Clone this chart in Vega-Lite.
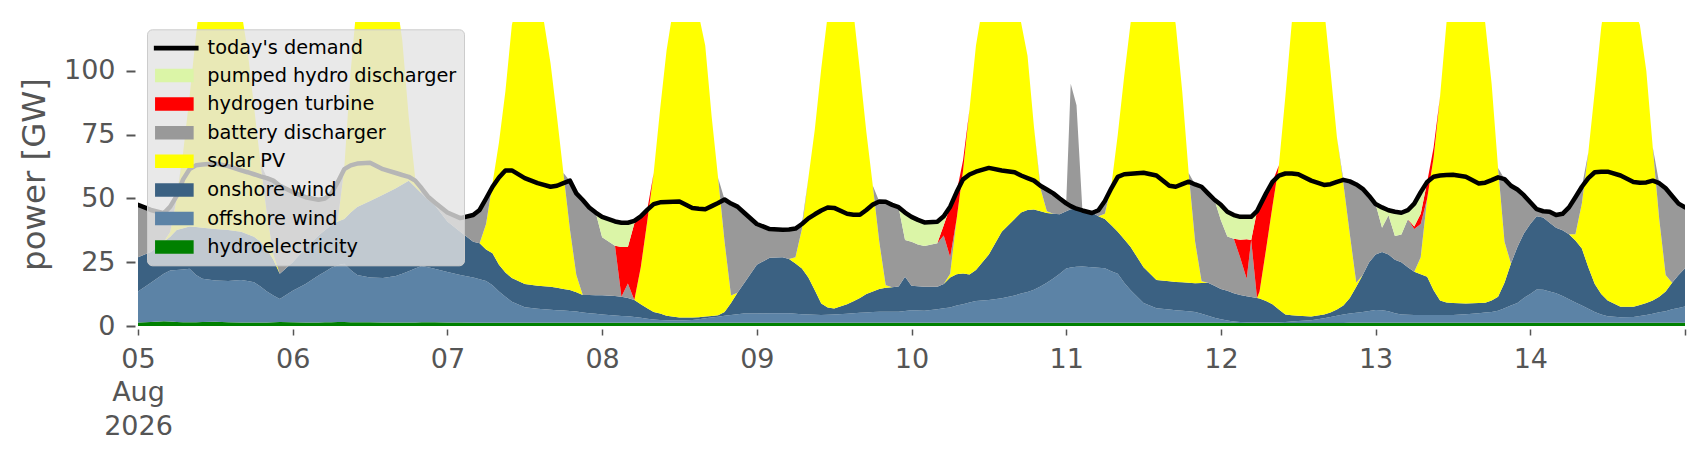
{
  "$schema": "https://vega.github.io/schema/vega-lite/v6.json",
  "width": 1547,
  "height": 304,
  "autosize": {"type": "none"},
  "padding": {"left": 138, "top": 22, "right": 21, "bottom": 134},
  "background": "white",
  "config": {"view": {"stroke": null}, "font": "DejaVu Sans"},
  "resolve": {"scale": {"color": "independent"}, "legend": {"color": "independent"}},
  "data": {
    "values": [
      {"t":0,"hydro":1.4,"offshore":12.1,"onshore":13.5,"solar":0,"battery":20.5,"hydrogen":0,"phs":0,"demand":47.5},
      {"t":2,"hydro":1.6,"offshore":15.4,"onshore":12,"solar":0,"battery":16.5,"hydrogen":0,"phs":0,"demand":45.5},
      {"t":4,"hydro":1.9,"offshore":18.6,"onshore":12.5,"solar":0,"battery":11.2,"hydrogen":0,"phs":0,"demand":44.2},
      {"t":5,"hydro":1.8,"offshore":20,"onshore":13.2,"solar":2,"battery":9.8,"hydrogen":0,"phs":0,"demand":46.8},
      {"t":6,"hydro":1.6,"offshore":20.4,"onshore":15.6,"solar":12.4,"battery":1,"hydrogen":0,"phs":0,"demand":51},
      {"t":7,"hydro":1.5,"offshore":20.7,"onshore":16.1,"solar":29.7,"battery":0,"hydrogen":0,"phs":0,"demand":57.5},
      {"t":8,"hydro":1.5,"offshore":20.9,"onshore":16.6,"solar":51,"battery":0,"hydrogen":0,"phs":0,"demand":61.5},
      {"t":9,"hydro":1.5,"offshore":18.5,"onshore":18.8,"solar":75.2,"battery":0,"hydrogen":0,"phs":0,"demand":63},
      {"t":10,"hydro":1.6,"offshore":16.9,"onshore":20,"solar":96.5,"battery":0,"hydrogen":0,"phs":0,"demand":63.3},
      {"t":12,"hydro":1.7,"offshore":16.1,"onshore":20.2,"solar":122,"battery":0,"hydrogen":0,"phs":0,"demand":63.7},
      {"t":14,"hydro":1.5,"offshore":16.1,"onshore":20,"solar":112.4,"battery":0,"hydrogen":0,"phs":0,"demand":62.7},
      {"t":16,"hydro":1.4,"offshore":16.6,"onshore":19,"solar":87,"battery":0,"hydrogen":0,"phs":0,"demand":61},
      {"t":17,"hydro":1.4,"offshore":16.2,"onshore":18.4,"solar":72,"battery":0,"hydrogen":0,"phs":0,"demand":60.3},
      {"t":18,"hydro":1.4,"offshore":15.8,"onshore":17.8,"solar":51,"battery":0,"hydrogen":0,"phs":0,"demand":59.5},
      {"t":19,"hydro":1.4,"offshore":14.1,"onshore":17.5,"solar":31,"battery":0,"hydrogen":0,"phs":0,"demand":58.7},
      {"t":20,"hydro":1.4,"offshore":12.1,"onshore":16.5,"solar":14,"battery":14,"hydrogen":0,"phs":0,"demand":58},
      {"t":21,"hydro":1.5,"offshore":10.5,"onshore":14,"solar":2,"battery":29,"hydrogen":0,"phs":0,"demand":57},
      {"t":22,"hydro":1.6,"offshore":9,"onshore":9.9,"solar":0,"battery":34.5,"hydrogen":0,"phs":0,"demand":55},
      {"t":24,"hydro":1.5,"offshore":12.3,"onshore":11.2,"solar":0,"battery":27.5,"hydrogen":0,"phs":0,"demand":52.5},
      {"t":26,"hydro":1.4,"offshore":15.1,"onshore":14,"solar":0,"battery":20,"hydrogen":0,"phs":0,"demand":50.5},
      {"t":28,"hydro":1.4,"offshore":18.4,"onshore":15.7,"solar":0,"battery":14,"hydrogen":0,"phs":0,"demand":49.5},
      {"t":29,"hydro":1.5,"offshore":19.8,"onshore":16.2,"solar":0,"battery":12.5,"hydrogen":0,"phs":0,"demand":50},
      {"t":30,"hydro":1.5,"offshore":21.3,"onshore":16.7,"solar":0,"battery":12.5,"hydrogen":0,"phs":0,"demand":52},
      {"t":31,"hydro":1.6,"offshore":22.2,"onshore":17.2,"solar":0.5,"battery":15,"hydrogen":0,"phs":0,"demand":56.5},
      {"t":32,"hydro":1.6,"offshore":22.8,"onshore":17.6,"solar":20,"battery":0,"hydrogen":0,"phs":0,"demand":61.5},
      {"t":33,"hydro":1.5,"offshore":20.5,"onshore":22.5,"solar":55.5,"battery":0,"hydrogen":0,"phs":0,"demand":63},
      {"t":34,"hydro":1.5,"offshore":18.5,"onshore":26.7,"solar":81.3,"battery":0,"hydrogen":0,"phs":0,"demand":63.7},
      {"t":36,"hydro":1.5,"offshore":17.5,"onshore":30,"solar":106,"battery":0,"hydrogen":0,"phs":0,"demand":64},
      {"t":38,"hydro":1.4,"offshore":17.4,"onshore":32.7,"solar":98.5,"battery":0,"hydrogen":0,"phs":0,"demand":61.5},
      {"t":40,"hydro":1.4,"offshore":18.2,"onshore":34.4,"solar":76,"battery":0,"hydrogen":0,"phs":0,"demand":60},
      {"t":41,"hydro":1.4,"offshore":19.1,"onshore":35,"solar":56.5,"battery":0,"hydrogen":0,"phs":0,"demand":59.2},
      {"t":42,"hydro":1.4,"offshore":20.1,"onshore":35.5,"solar":25,"battery":0,"hydrogen":0,"phs":0,"demand":58.5},
      {"t":43,"hydro":1.4,"offshore":21.1,"onshore":32,"solar":3.5,"battery":0,"hydrogen":0,"phs":0,"demand":57},
      {"t":44,"hydro":1.5,"offshore":22,"onshore":28.5,"solar":0,"battery":2,"hydrogen":0,"phs":0,"demand":54},
      {"t":45,"hydro":1.5,"offshore":21.5,"onshore":26.5,"solar":0,"battery":1.2,"hydrogen":0,"phs":0,"demand":50.7},
      {"t":46,"hydro":1.5,"offshore":20.9,"onshore":25.1,"solar":0,"battery":1,"hydrogen":0,"phs":0,"demand":48.5},
      {"t":48,"hydro":1.4,"offshore":19.8,"onshore":19.8,"solar":0,"battery":3.5,"hydrogen":0,"phs":0,"demand":44.5},
      {"t":50,"hydro":1.4,"offshore":18.6,"onshore":17,"solar":0,"battery":5.3,"hydrogen":0,"phs":0,"demand":42.3},
      {"t":52,"hydro":1.3,"offshore":17.7,"onshore":14,"solar":0,"battery":10.5,"hydrogen":0,"phs":0,"demand":43.5},
      {"t":53,"hydro":1.3,"offshore":17,"onshore":14.1,"solar":0,"battery":13.1,"hydrogen":0,"phs":0,"demand":45.5},
      {"t":54,"hydro":1.3,"offshore":16.3,"onshore":12.4,"solar":10,"battery":10,"hydrogen":0,"phs":0,"demand":50},
      {"t":55,"hydro":1.3,"offshore":14.7,"onshore":12.5,"solar":27.5,"battery":0,"hydrogen":0,"phs":0,"demand":54.6},
      {"t":56,"hydro":1.3,"offshore":12.2,"onshore":10.5,"solar":48,"battery":0,"hydrogen":0,"phs":0,"demand":58.2},
      {"t":57,"hydro":1.3,"offshore":10.2,"onshore":9.5,"solar":71,"battery":0,"hydrogen":0,"phs":0,"demand":61},
      {"t":58,"hydro":1.3,"offshore":8.2,"onshore":9.3,"solar":99.2,"battery":0,"hydrogen":0,"phs":0,"demand":61},
      {"t":60,"hydro":1.3,"offshore":6.1,"onshore":9.1,"solar":123.5,"battery":0,"hydrogen":0,"phs":0,"demand":58},
      {"t":62,"hydro":1.3,"offshore":5.5,"onshore":9,"solar":119.2,"battery":0,"hydrogen":0,"phs":0,"demand":56},
      {"t":64,"hydro":1.3,"offshore":5.1,"onshore":9,"solar":87.6,"battery":0,"hydrogen":0,"phs":0,"demand":54.6},
      {"t":65,"hydro":1.3,"offshore":4.9,"onshore":8.8,"solar":67,"battery":0,"hydrogen":0,"phs":0,"demand":55},
      {"t":66,"hydro":1.3,"offshore":4.8,"onshore":8.4,"solar":45.5,"battery":0,"hydrogen":0,"phs":0,"demand":56},
      {"t":67,"hydro":1.3,"offshore":4.6,"onshore":8.2,"solar":23.9,"battery":19,"hydrogen":0,"phs":0,"demand":57},
      {"t":68,"hydro":1.3,"offshore":4.4,"onshore":7.5,"solar":6.8,"battery":32,"hydrogen":0,"phs":0,"demand":52},
      {"t":69,"hydro":1.3,"offshore":4,"onshore":6.9,"solar":0,"battery":37.2,"hydrogen":0,"phs":0,"demand":49.4},
      {"t":70,"hydro":1.3,"offshore":3.7,"onshore":7.2,"solar":0,"battery":34.3,"hydrogen":0,"phs":0,"demand":46.5},
      {"t":71,"hydro":1.3,"offshore":3.5,"onshore":7.3,"solar":0,"battery":32.4,"hydrogen":0,"phs":0,"demand":44.5},
      {"t":72,"hydro":1.3,"offshore":3.2,"onshore":7.6,"solar":0,"battery":22.7,"hydrogen":0,"phs":8,"demand":42.8},
      {"t":74,"hydro":1.3,"offshore":2.8,"onshore":7.7,"solar":0,"battery":19.7,"hydrogen":0,"phs":9.5,"demand":41},
      {"t":75,"hydro":1.3,"offshore":2.6,"onshore":7.6,"solar":0,"battery":0,"hydrogen":19.5,"phs":9.5,"demand":40.5},
      {"t":76,"hydro":1.3,"offshore":2.5,"onshore":7.2,"solar":0,"battery":5.7,"hydrogen":14.3,"phs":9.5,"demand":40.5},
      {"t":77,"hydro":1.3,"offshore":2.2,"onshore":6.7,"solar":0,"battery":0,"hydrogen":30,"phs":1,"demand":41.2},
      {"t":78,"hydro":1.3,"offshore":1.9,"onshore":5.3,"solar":14.5,"battery":0,"hydrogen":20,"phs":0,"demand":43},
      {"t":79,"hydro":1.3,"offshore":1.5,"onshore":4.2,"solar":34,"battery":0,"hydrogen":4.5,"phs":0,"demand":45.5},
      {"t":80,"hydro":1.3,"offshore":1.2,"onshore":3,"solar":54.5,"battery":0,"hydrogen":0,"phs":0,"demand":47.8},
      {"t":81,"hydro":1.3,"offshore":1.1,"onshore":2.5,"solar":80.1,"battery":0,"hydrogen":0,"phs":0,"demand":48.5},
      {"t":82,"hydro":1.3,"offshore":1,"onshore":1.7,"solar":104,"battery":0,"hydrogen":0,"phs":0,"demand":48.6},
      {"t":84,"hydro":1.3,"offshore":0.9,"onshore":1.1,"solar":136.7,"battery":0,"hydrogen":0,"phs":0,"demand":48.8},
      {"t":86,"hydro":1.3,"offshore":1.1,"onshore":0.9,"solar":131.7,"battery":0,"hydrogen":0,"phs":0,"demand":46.3},
      {"t":87,"hydro":1.3,"offshore":1.3,"onshore":0.8,"solar":118.6,"battery":0,"hydrogen":0,"phs":0,"demand":46},
      {"t":88,"hydro":1.3,"offshore":1.7,"onshore":0.7,"solar":106.3,"battery":0,"hydrogen":0,"phs":0,"demand":45.8},
      {"t":89,"hydro":1.3,"offshore":2,"onshore":0.6,"solar":78.1,"battery":0,"hydrogen":0,"phs":0,"demand":47},
      {"t":90,"hydro":1.3,"offshore":2.3,"onshore":0.6,"solar":53.8,"battery":0,"hydrogen":0,"phs":0,"demand":48.2},
      {"t":91,"hydro":1.3,"offshore":2.7,"onshore":1.5,"solar":27.5,"battery":16.6,"hydrogen":0,"phs":0,"demand":49.6},
      {"t":92,"hydro":1.3,"offshore":3,"onshore":4.7,"solar":3,"battery":36,"hydrogen":0,"phs":0,"demand":48},
      {"t":93,"hydro":1.3,"offshore":3.3,"onshore":8.4,"solar":0,"battery":33.8,"hydrogen":0,"phs":0,"demand":46.8},
      {"t":94,"hydro":1.3,"offshore":3.6,"onshore":11.8,"solar":0,"battery":27.8,"hydrogen":0,"phs":0,"demand":44.5},
      {"t":96,"hydro":1.3,"offshore":3.6,"onshore":19.1,"solar":0,"battery":16,"hydrogen":0,"phs":0,"demand":40},
      {"t":98,"hydro":1.3,"offshore":3.7,"onshore":21.8,"solar":0,"battery":11.2,"hydrogen":0,"phs":0,"demand":38},
      {"t":100,"hydro":1.3,"offshore":3.7,"onshore":22,"solar":0,"battery":10.7,"hydrogen":0,"phs":0,"demand":37.7},
      {"t":101,"hydro":1.3,"offshore":3.7,"onshore":21.3,"solar":0,"battery":11.5,"hydrogen":0,"phs":0,"demand":37.8},
      {"t":102,"hydro":1.3,"offshore":3.5,"onshore":19.7,"solar":2.5,"battery":11.2,"hydrogen":0,"phs":0,"demand":38.2},
      {"t":103,"hydro":1.3,"offshore":3.3,"onshore":17.9,"solar":15.5,"battery":2,"hydrogen":0,"phs":0,"demand":40},
      {"t":104,"hydro":1.3,"offshore":3.2,"onshore":14.5,"solar":39,"battery":0,"hydrogen":0,"phs":0,"demand":42.2},
      {"t":105,"hydro":1.3,"offshore":3.1,"onshore":9.6,"solar":63,"battery":0,"hydrogen":0,"phs":0,"demand":43.8},
      {"t":106,"hydro":1.3,"offshore":3,"onshore":4.5,"solar":92.2,"battery":0,"hydrogen":0,"phs":0,"demand":45.3},
      {"t":107,"hydro":1.3,"offshore":3.1,"onshore":2.9,"solar":114.7,"battery":0,"hydrogen":0,"phs":0,"demand":46.5},
      {"t":108,"hydro":1.3,"offshore":3.2,"onshore":2.4,"solar":133.1,"battery":0,"hydrogen":0,"phs":0,"demand":46.3},
      {"t":110,"hydro":1.3,"offshore":3.5,"onshore":3.7,"solar":136.5,"battery":0,"hydrogen":0,"phs":0,"demand":44},
      {"t":111,"hydro":1.3,"offshore":3.7,"onshore":4.7,"solar":113.3,"battery":0,"hydrogen":0,"phs":0,"demand":43.6},
      {"t":112,"hydro":1.3,"offshore":3.9,"onshore":5.8,"solar":89,"battery":0,"hydrogen":0,"phs":0,"demand":43.6},
      {"t":113,"hydro":1.3,"offshore":4,"onshore":7.2,"solar":63.5,"battery":0,"hydrogen":0,"phs":0,"demand":45.5},
      {"t":114,"hydro":1.3,"offshore":4.2,"onshore":8,"solar":41.5,"battery":0,"hydrogen":0,"phs":0,"demand":47.6},
      {"t":115,"hydro":1.3,"offshore":4.3,"onshore":8.9,"solar":18.5,"battery":15.8,"hydrogen":0,"phs":0,"demand":48.8},
      {"t":116,"hydro":1.3,"offshore":4.3,"onshore":9.4,"solar":1,"battery":32.7,"hydrogen":0,"phs":0,"demand":48.7},
      {"t":117,"hydro":1.3,"offshore":4.3,"onshore":9.6,"solar":0,"battery":32.3,"hydrogen":0,"phs":0,"demand":47.5},
      {"t":118,"hydro":1.3,"offshore":4.3,"onshore":9.9,"solar":0,"battery":31.1,"hydrogen":0,"phs":0,"demand":46.6},
      {"t":119,"hydro":1.3,"offshore":4.6,"onshore":13.4,"solar":0,"battery":14.4,"hydrogen":0,"phs":10.8,"demand":44.5},
      {"t":120,"hydro":1.3,"offshore":4.9,"onshore":9.6,"solar":0,"battery":17.2,"hydrogen":0,"phs":9.8,"demand":42.8},
      {"t":121,"hydro":1.3,"offshore":4.8,"onshore":9.5,"solar":0,"battery":16.4,"hydrogen":0,"phs":9.6,"demand":41.6},
      {"t":122,"hydro":1.3,"offshore":4.7,"onshore":9.4,"solar":0,"battery":16,"hydrogen":0,"phs":9.2,"demand":40.6},
      {"t":124,"hydro":1.3,"offshore":5.3,"onshore":8.8,"solar":0,"battery":17,"hydrogen":0,"phs":8.5,"demand":40.9},
      {"t":125,"hydro":1.3,"offshore":5.7,"onshore":9.5,"solar":0,"battery":19,"hydrogen":4,"phs":3.5,"demand":43},
      {"t":126,"hydro":1.3,"offshore":6,"onshore":11.7,"solar":1.5,"battery":6.5,"hydrogen":19.8,"phs":0,"demand":46.8},
      {"t":127,"hydro":1.3,"offshore":6.7,"onshore":12.3,"solar":21.7,"battery":0,"hydrogen":10.5,"phs":0,"demand":52.5},
      {"t":128,"hydro":1.3,"offshore":7.2,"onshore":12.1,"solar":40.4,"battery":0,"hydrogen":4,"phs":0,"demand":57.5},
      {"t":129,"hydro":1.3,"offshore":7.9,"onshore":11,"solar":64.8,"battery":0,"hydrogen":0,"phs":0,"demand":59.4},
      {"t":130,"hydro":1.3,"offshore":8.5,"onshore":12.2,"solar":88,"battery":0,"hydrogen":0,"phs":0,"demand":60.5},
      {"t":132,"hydro":1.3,"offshore":8.9,"onshore":17.8,"solar":112,"battery":0,"hydrogen":0,"phs":0,"demand":62},
      {"t":134,"hydro":1.3,"offshore":9.6,"onshore":26.1,"solar":103,"battery":0,"hydrogen":0,"phs":0,"demand":61},
      {"t":136,"hydro":1.3,"offshore":10.7,"onshore":30,"solar":88,"battery":0,"hydrogen":0,"phs":0,"demand":60.3},
      {"t":137,"hydro":1.3,"offshore":11.4,"onshore":31.8,"solar":74.5,"battery":0,"hydrogen":0,"phs":0,"demand":59},
      {"t":138,"hydro":1.3,"offshore":12,"onshore":32.2,"solar":60.5,"battery":0,"hydrogen":0,"phs":0,"demand":58},
      {"t":139,"hydro":1.3,"offshore":12.9,"onshore":31.5,"solar":32.3,"battery":0,"hydrogen":0,"phs":0,"demand":57},
      {"t":140,"hydro":1.3,"offshore":14.2,"onshore":29.5,"solar":9,"battery":1,"hydrogen":0,"phs":0,"demand":55},
      {"t":141,"hydro":1.3,"offshore":15.7,"onshore":27.3,"solar":0.7,"battery":8.5,"hydrogen":0,"phs":0,"demand":53.5},
      {"t":142,"hydro":1.3,"offshore":17.3,"onshore":25.4,"solar":0,"battery":8,"hydrogen":0,"phs":0,"demand":52},
      {"t":143,"hydro":1.3,"offshore":19.2,"onshore":23.3,"solar":0,"battery":6.2,"hydrogen":0,"phs":0,"demand":50},
      {"t":144,"hydro":1.3,"offshore":21.2,"onshore":22.5,"solar":0,"battery":3.1,"hydrogen":0,"phs":0,"demand":48.1},
      {"t":144.7,"hydro":1.3,"offshore":21.6,"onshore":22.9,"solar":0,"battery":49.2,"hydrogen":0,"phs":0,"demand":47},
      {"t":145.6,"hydro":1.3,"offshore":21.9,"onshore":22.8,"solar":0,"battery":40.6,"hydrogen":0,"phs":0,"demand":46},
      {"t":146.5,"hydro":1.3,"offshore":22,"onshore":22.7,"solar":0,"battery":0,"hydrogen":0,"phs":0,"demand":45.3},
      {"t":148,"hydro":1.3,"offshore":21.7,"onshore":21.5,"solar":0,"battery":0,"hydrogen":0,"phs":0,"demand":44.3},
      {"t":149,"hydro":1.3,"offshore":21.5,"onshore":20.2,"solar":0,"battery":2.4,"hydrogen":0,"phs":0,"demand":45.4},
      {"t":150,"hydro":1.3,"offshore":21.3,"onshore":19.4,"solar":2,"battery":5,"hydrogen":0,"phs":0,"demand":49},
      {"t":151,"hydro":1.3,"offshore":20.2,"onshore":18,"solar":15.5,"battery":0,"hydrogen":0,"phs":0,"demand":54},
      {"t":152,"hydro":1.3,"offshore":19.2,"onshore":16.5,"solar":38,"battery":0,"hydrogen":0,"phs":0,"demand":58.5},
      {"t":153,"hydro":1.3,"offshore":15.7,"onshore":17,"solar":64,"battery":0,"hydrogen":0,"phs":0,"demand":59.5},
      {"t":154,"hydro":1.3,"offshore":12.7,"onshore":17,"solar":88,"battery":0,"hydrogen":0,"phs":0,"demand":59.7},
      {"t":156,"hydro":1.3,"offshore":7.7,"onshore":14,"solar":122,"battery":0,"hydrogen":0,"phs":0,"demand":60.1},
      {"t":158,"hydro":1.3,"offshore":5.7,"onshore":11,"solar":117,"battery":0,"hydrogen":0,"phs":0,"demand":59},
      {"t":160,"hydro":1.3,"offshore":5.2,"onshore":11,"solar":117.5,"battery":0,"hydrogen":0,"phs":0,"demand":55},
      {"t":161,"hydro":1.3,"offshore":4.9,"onshore":11.1,"solar":100.7,"battery":0,"hydrogen":0,"phs":0,"demand":54.6},
      {"t":162,"hydro":1.3,"offshore":4.7,"onshore":11.2,"solar":74.8,"battery":0,"hydrogen":0,"phs":0,"demand":55.6},
      {"t":163,"hydro":1.3,"offshore":4.5,"onshore":11.2,"solar":43,"battery":0,"hydrogen":0,"phs":0,"demand":56.6},
      {"t":164,"hydro":1.3,"offshore":4.2,"onshore":11.3,"solar":16.2,"battery":22.5,"hydrogen":0,"phs":0,"demand":55.5},
      {"t":165,"hydro":1.3,"offshore":3.5,"onshore":12.1,"solar":0.6,"battery":37.1,"hydrogen":0,"phs":0,"demand":54.6},
      {"t":166,"hydro":1.3,"offshore":2.7,"onshore":13,"solar":0,"battery":35,"hydrogen":0,"phs":0,"demand":52},
      {"t":167,"hydro":1.3,"offshore":1.9,"onshore":12.6,"solar":0,"battery":33.7,"hydrogen":0,"phs":0,"demand":49.5},
      {"t":168,"hydro":1.3,"offshore":1.3,"onshore":11.9,"solar":0,"battery":27,"hydrogen":0,"phs":6,"demand":47.5},
      {"t":169,"hydro":1.3,"offshore":0.9,"onshore":11.6,"solar":0,"battery":21.3,"hydrogen":0,"phs":9.7,"demand":44.8},
      {"t":170,"hydro":1.3,"offshore":0.5,"onshore":11,"solar":0,"battery":21.4,"hydrogen":0,"phs":9.3,"demand":43.5},
      {"t":171,"hydro":1.2,"offshore":0.4,"onshore":10.6,"solar":0,"battery":14.6,"hydrogen":7,"phs":9,"demand":42.8},
      {"t":172,"hydro":1.2,"offshore":0.3,"onshore":10.2,"solar":0,"battery":6.8,"hydrogen":15.5,"phs":8.8,"demand":42.8},
      {"t":172.7,"hydro":1.2,"offshore":0.25,"onshore":9.95,"solar":0,"battery":22.3,"hydrogen":0,"phs":9.1,"demand":42.8},
      {"t":173.6,"hydro":1.2,"offshore":0.2,"onshore":9.6,"solar":0,"battery":0,"hydrogen":34,"phs":0,"demand":45},
      {"t":174,"hydro":1.2,"offshore":0.2,"onshore":9.4,"solar":2.7,"battery":0,"hydrogen":33.5,"phs":0,"demand":47},
      {"t":175,"hydro":1.2,"offshore":0.2,"onshore":8.4,"solar":20.2,"battery":0,"hydrogen":22,"phs":0,"demand":52},
      {"t":176,"hydro":1.2,"offshore":0.2,"onshore":7.1,"solar":38.5,"battery":0,"hydrogen":9.5,"phs":0,"demand":56.5},
      {"t":177,"hydro":1.2,"offshore":0.3,"onshore":5,"solar":56.5,"battery":0,"hydrogen":0,"phs":0,"demand":59},
      {"t":178,"hydro":1.2,"offshore":0.4,"onshore":2.9,"solar":85.5,"battery":0,"hydrogen":0,"phs":0,"demand":59.8},
      {"t":179,"hydro":1.2,"offshore":0.6,"onshore":2.4,"solar":114.8,"battery":0,"hydrogen":0,"phs":0,"demand":59.8},
      {"t":180,"hydro":1.2,"offshore":0.8,"onshore":2,"solar":136,"battery":0,"hydrogen":0,"phs":0,"demand":59.5},
      {"t":182,"hydro":1.2,"offshore":1.1,"onshore":1.4,"solar":146.3,"battery":0,"hydrogen":0,"phs":0,"demand":57},
      {"t":184,"hydro":1.2,"offshore":1.8,"onshore":1.5,"solar":120.5,"battery":0,"hydrogen":0,"phs":0,"demand":55.3},
      {"t":185,"hydro":1.2,"offshore":2.3,"onshore":1.8,"solar":94.7,"battery":0,"hydrogen":0,"phs":0,"demand":55.6},
      {"t":186,"hydro":1.2,"offshore":2.8,"onshore":2.5,"solar":67.5,"battery":0,"hydrogen":0,"phs":0,"demand":56.5},
      {"t":187,"hydro":1.2,"offshore":3.3,"onshore":3.5,"solar":48,"battery":1.3,"hydrogen":0,"phs":0,"demand":57.3},
      {"t":188,"hydro":1.3,"offshore":3.6,"onshore":6.1,"solar":25,"battery":20.7,"hydrogen":0,"phs":0,"demand":56.7},
      {"t":189,"hydro":1.3,"offshore":3.9,"onshore":10.2,"solar":1.6,"battery":38.5,"hydrogen":0,"phs":0,"demand":55.5},
      {"t":190,"hydro":1.3,"offshore":4.2,"onshore":14.5,"solar":0,"battery":33.8,"hydrogen":0,"phs":0,"demand":53.8},
      {"t":191,"hydro":1.3,"offshore":4.6,"onshore":19.1,"solar":0,"battery":26,"hydrogen":0,"phs":0,"demand":51},
      {"t":192,"hydro":1.3,"offshore":5,"onshore":21.7,"solar":0,"battery":19.8,"hydrogen":0,"phs":0,"demand":47.8},
      {"t":193,"hydro":1.3,"offshore":4.9,"onshore":22.8,"solar":0,"battery":9.5,"hydrogen":0,"phs":8,"demand":46.5},
      {"t":194,"hydro":1.3,"offshore":4.5,"onshore":22.2,"solar":0,"battery":15.4,"hydrogen":0,"phs":2,"demand":45.4},
      {"t":195,"hydro":1.3,"offshore":3.7,"onshore":21,"solar":0,"battery":9.3,"hydrogen":0,"phs":9.5,"demand":44.8},
      {"t":196,"hydro":1.3,"offshore":3.2,"onshore":20.5,"solar":0,"battery":10.9,"hydrogen":0,"phs":8.5,"demand":44.4},
      {"t":197,"hydro":1.3,"offshore":3.1,"onshore":18.6,"solar":0,"battery":18.9,"hydrogen":0,"phs":3.5,"demand":45.4},
      {"t":198,"hydro":1.3,"offshore":3,"onshore":17,"solar":0,"battery":16.7,"hydrogen":1,"phs":9,"demand":48},
      {"t":199,"hydro":1.3,"offshore":3,"onshore":16,"solar":6.7,"battery":13,"hydrogen":4,"phs":8.5,"demand":52.5},
      {"t":200,"hydro":1.3,"offshore":3,"onshore":15,"solar":30.7,"battery":0,"hydrogen":6.5,"phs":0,"demand":56.5},
      {"t":201,"hydro":1.3,"offshore":3,"onshore":9.7,"solar":52,"battery":0,"hydrogen":4,"phs":0,"demand":58.5},
      {"t":202,"hydro":1.3,"offshore":3,"onshore":5.7,"solar":80,"battery":0,"hydrogen":0,"phs":0,"demand":59},
      {"t":203,"hydro":1.3,"offshore":3,"onshore":4.9,"solar":109.8,"battery":0,"hydrogen":0,"phs":0,"demand":59.2},
      {"t":204,"hydro":1.3,"offshore":3,"onshore":4.7,"solar":126,"battery":0,"hydrogen":0,"phs":0,"demand":59.3},
      {"t":206,"hydro":1.3,"offshore":3.3,"onshore":4.2,"solar":131.2,"battery":0,"hydrogen":0,"phs":0,"demand":58.5},
      {"t":208,"hydro":1.3,"offshore":3.7,"onshore":4,"solar":121,"battery":0,"hydrogen":0,"phs":0,"demand":55.9},
      {"t":209,"hydro":1.3,"offshore":4,"onshore":3.8,"solar":109.9,"battery":0,"hydrogen":0,"phs":0,"demand":56.2},
      {"t":210,"hydro":1.3,"offshore":4.2,"onshore":4.5,"solar":85,"battery":0,"hydrogen":0,"phs":0,"demand":57.2},
      {"t":211,"hydro":1.3,"offshore":4.7,"onshore":5.5,"solar":50.5,"battery":0,"hydrogen":0,"phs":0,"demand":58.3},
      {"t":212,"hydro":1.3,"offshore":5.7,"onshore":10,"solar":16,"battery":24.6,"hydrogen":0,"phs":0,"demand":57.6},
      {"t":213,"hydro":1.3,"offshore":6.7,"onshore":16.5,"solar":0,"battery":30.5,"hydrogen":0,"phs":0,"demand":55},
      {"t":214,"hydro":1.3,"offshore":7.7,"onshore":22,"solar":0,"battery":22.5,"hydrogen":0,"phs":0,"demand":53.5},
      {"t":215,"hydro":1.3,"offshore":9.7,"onshore":25.3,"solar":0,"battery":15,"hydrogen":0,"phs":0,"demand":51.3},
      {"t":216,"hydro":1.3,"offshore":11.2,"onshore":27.5,"solar":0,"battery":8.5,"hydrogen":0,"phs":0,"demand":48.5},
      {"t":217,"hydro":1.3,"offshore":13,"onshore":28.7,"solar":0,"battery":2.8,"hydrogen":0,"phs":0,"demand":45.8},
      {"t":218,"hydro":1.3,"offshore":12.9,"onshore":28.3,"solar":0,"battery":2.5,"hydrogen":0,"phs":0,"demand":45},
      {"t":219,"hydro":1.3,"offshore":12.2,"onshore":27,"solar":0,"battery":4.3,"hydrogen":0,"phs":0,"demand":44.8},
      {"t":220,"hydro":1.3,"offshore":11.5,"onshore":25.7,"solar":0,"battery":5,"hydrogen":0,"phs":0,"demand":43.5},
      {"t":221,"hydro":1.3,"offshore":10.5,"onshore":25.7,"solar":0,"battery":6.5,"hydrogen":0,"phs":0,"demand":44},
      {"t":222,"hydro":1.3,"offshore":9.2,"onshore":25.5,"solar":0,"battery":10.5,"hydrogen":0,"phs":0,"demand":46.5},
      {"t":223,"hydro":1.3,"offshore":7.9,"onshore":24.3,"solar":2.5,"battery":14.5,"hydrogen":0,"phs":0,"demand":50.5},
      {"t":224,"hydro":1.3,"offshore":6.7,"onshore":22.4,"solar":17.6,"battery":6.6,"hydrogen":0,"phs":0,"demand":54.6},
      {"t":225,"hydro":1.3,"offshore":5.5,"onshore":16.2,"solar":45,"battery":0,"hydrogen":0,"phs":0,"demand":58},
      {"t":226,"hydro":1.3,"offshore":4.2,"onshore":11,"solar":75.5,"battery":0,"hydrogen":0,"phs":0,"demand":60.3},
      {"t":227,"hydro":1.3,"offshore":3.2,"onshore":8,"solar":104.5,"battery":0,"hydrogen":0,"phs":0,"demand":60.5},
      {"t":228,"hydro":1.3,"offshore":2.5,"onshore":6.2,"solar":125,"battery":0,"hydrogen":0,"phs":0,"demand":60.5},
      {"t":230,"hydro":1.3,"offshore":2.1,"onshore":4.1,"solar":137.5,"battery":0,"hydrogen":0,"phs":0,"demand":59},
      {"t":232,"hydro":1.3,"offshore":2.2,"onshore":4,"solar":117.5,"battery":0,"hydrogen":0,"phs":0,"demand":56.5},
      {"t":233,"hydro":1.3,"offshore":2.6,"onshore":4.3,"solar":109.8,"battery":0,"hydrogen":0,"phs":0,"demand":56.2},
      {"t":234,"hydro":1.3,"offshore":3,"onshore":4.7,"solar":91,"battery":0,"hydrogen":0,"phs":0,"demand":56.3},
      {"t":235,"hydro":1.3,"offshore":3.5,"onshore":5.2,"solar":60,"battery":0,"hydrogen":0,"phs":0,"demand":57},
      {"t":236,"hydro":1.3,"offshore":4.1,"onshore":6.1,"solar":30.5,"battery":14,"hydrogen":0,"phs":0,"demand":56},
      {"t":237,"hydro":1.3,"offshore":4.5,"onshore":7.7,"solar":6.5,"battery":34,"hydrogen":0,"phs":0,"demand":54},
      {"t":238,"hydro":1.3,"offshore":5.3,"onshore":10.4,"solar":0,"battery":34,"hydrogen":0,"phs":0,"demand":51},
      {"t":239,"hydro":1.3,"offshore":5.8,"onshore":12.9,"solar":0,"battery":28,"hydrogen":0,"phs":0,"demand":48},
      {"t":240,"hydro":1.3,"offshore":6.3,"onshore":15,"solar":0,"battery":23.9,"hydrogen":0,"phs":0,"demand":46.5}
    ]
  },
  "encoding": {
    "x": {
      "field": "t",
      "type": "quantitative",
      "scale": {"domain": [0, 240], "nice": false, "zero": false},
      "axis": {
        "title": null,
        "values": [0, 24, 48, 72, 96, 120, 144, 168, 192, 216, 240],
        "labelExpr": "datum.value == 0 ? ['05', 'Aug', '2026'] : datum.value >= 240 ? '' : ((5 + datum.value / 24) < 10 ? '0' : '') + (5 + datum.value / 24)",
        "domain": false,
        "grid": false,
        "offset": 3,
        "tickSize": 6,
        "tickWidth": 1.5,
        "tickColor": "#555555",
        "labelFont": "DejaVu Sans",
        "labelFontSize": 27,
        "labelColor": "#555555",
        "labelPadding": 11,
        "labelLineHeight": 33.5,
        "labelFlush": false,
        "labelOverlap": false,
        "labelBound": false
      }
    }
  },
  "layer": [
    {
      "transform": [
        {"fold": ["hydro", "offshore", "onshore", "solar", "battery", "hydrogen", "phs"], "as": ["series", "gw"]},
        {"calculate": "indexof(['hydro', 'offshore', 'onshore', 'solar', 'battery', 'hydrogen', 'phs'], datum.series)", "as": "stackorder"}
      ],
      "mark": {"type": "area", "clip": true, "opacity": 1},
      "encoding": {
        "y": {
          "field": "gw",
          "type": "quantitative",
          "stack": "zero",
          "title": "power [GW]",
          "scale": {"domain": [0, 119.2], "nice": false},
          "axis": {
            "values": [0, 25, 50, 75, 100],
            "domain": false,
            "grid": false,
            "offset": 3,
            "tickSize": 9,
            "tickWidth": 2,
            "tickColor": "#555555",
            "labelFont": "DejaVu Sans",
            "labelFontSize": 27,
            "labelColor": "#555555",
            "labelPadding": 11,
            "labelFlush": false,
            "titleFont": "DejaVu Sans",
            "titleFontSize": 32.4,
            "titleFontWeight": "normal",
            "titleColor": "#555555",
            "titlePadding": 12
          }
        },
        "color": {
          "field": "series",
          "type": "nominal",
          "scale": {
            "domain": ["phs", "hydrogen", "battery", "solar", "onshore", "offshore", "hydro"],
            "range": ["#dbf5a7", "#ff0000", "#999999", "#ffff00", "#3b6182", "#5c83a6", "#008000"]
          },
          "legend": {
            "title": "\u00a0",
            "titleFont": "DejaVu Sans",
            "titleFontSize": 19.3,
            "titlePadding": 9.2,
            "orient": "none",
            "legendX": 9,
            "legendY": 7.3,
            "direction": "vertical",
            "fillColor": "rgba(227,227,227,0.8)",
            "strokeColor": "#cccccc",
            "cornerRadius": 5,
            "padding": 7.7,
            "labelFont": "DejaVu Sans",
            "labelFontSize": 19.3,
            "labelColor": "#000000",
            "labelLimit": 500,
            "labelOffset": 32.6,
            "rowPadding": 7.6,
            "symbolType": "M-1,-0.7H3V0.7H-1Z",
            "symbolSize": 372.5,
            "symbolStrokeWidth": 0,
            "symbolOpacity": 1,
            "labelExpr": "({'phs': 'pumped hydro discharger', 'hydrogen': 'hydrogen turbine', 'battery': 'battery discharger', 'solar': 'solar PV', 'onshore': 'onshore wind', 'offshore': 'offshore wind', 'hydro': 'hydroelectricity'})[datum.label]"
          }
        },
        "order": {"field": "stackorder", "type": "quantitative"}
      }
    },
    {
      "mark": {"type": "line", "clip": true, "strokeWidth": 4.5, "strokeJoin": "round", "strokeCap": "round"},
      "encoding": {
        "y": {"field": "demand", "type": "quantitative", "title": "power [GW]"},
        "color": {
          "datum": "today's demand",
          "type": "nominal",
          "scale": {"range": ["#000000"]},
          "legend": {
            "title": null,
            "orient": "none",
            "legendX": 9,
            "legendY": 6,
            "padding": 7.7,
            "labelFont": "DejaVu Sans",
            "labelFontSize": 19.3,
            "labelColor": "#000000",
            "labelLimit": 500,
            "labelOffset": 27.9,
            "symbolType": "M-1.383,0H3.249",
            "symbolSize": 372.5,
            "symbolStrokeWidth": 4.7,
            "symbolStrokeColor": "#000000",
            "symbolOpacity": 1
          }
        }
      }
    }
  ]
}
